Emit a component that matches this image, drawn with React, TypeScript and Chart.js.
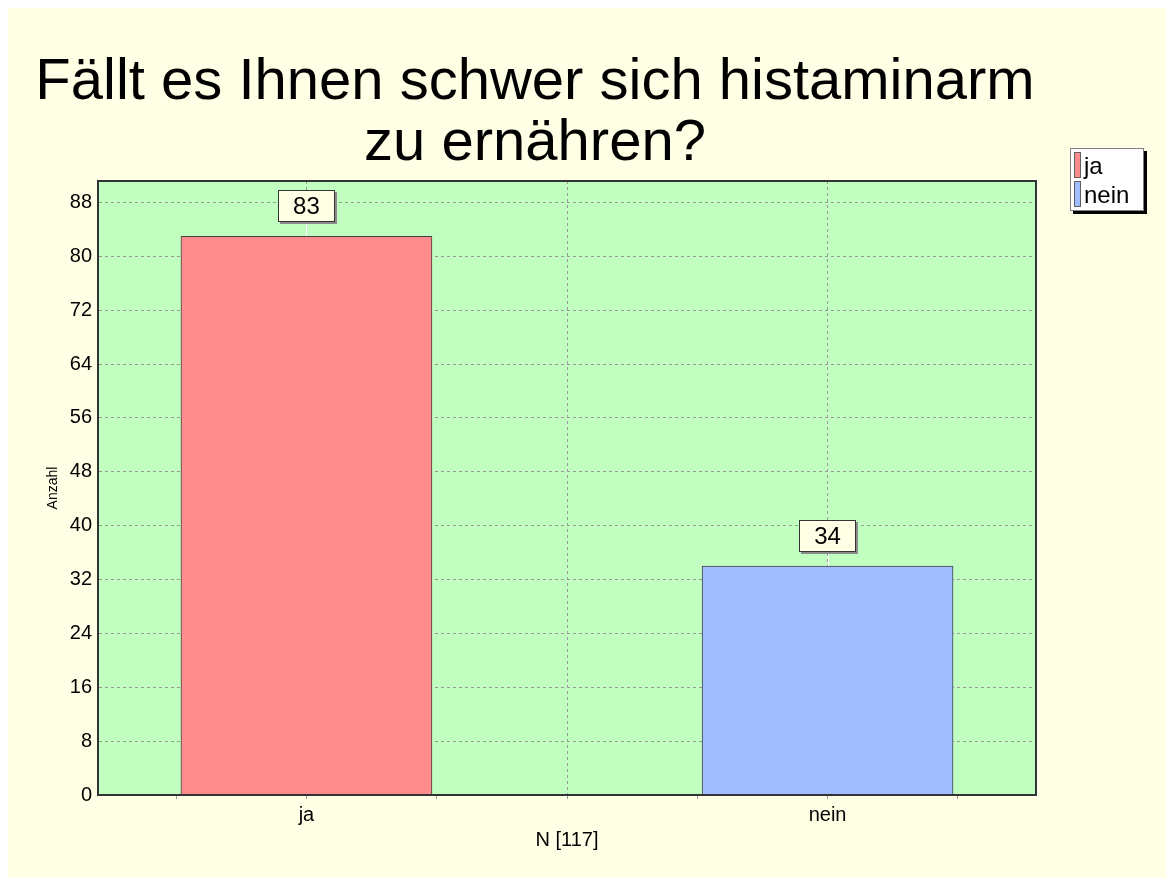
import { useEffect, useRef } from 'react';
import { Chart, registerables } from 'chart.js';

Chart.register(...registerables);

const TITLE_LINES = ['Fällt es Ihnen schwer sich histaminarm', 'zu ernähren?'];
const CATEGORIES = ['ja', 'nein'];
const CATEGORY_POSITIONS = [1, 2];
const COUNTS = [83, 34];
const BAR_COLORS = ['#FF8C8C', '#A0BEFF'];
const Y_TICK_STEP = 8;
const Y_MAX = 91.2;
const X_AXIS_TITLE = 'N [117]';
const Y_AXIS_TITLE = 'Anzahl';

const FONT = '"Liberation Sans", Arial, Helvetica, sans-serif';
const PAGE_BG = '#FFFFE6';
const PLOT_BG = '#C0FFC0';
const GRID = '#9A9A9A';

const decorPlugin = {
  id: 'decor',
  beforeDraw(chart: any) {
    const { ctx, chartArea } = chart;
    ctx.save();
    ctx.fillStyle = PAGE_BG;
    ctx.fillRect(0, 0, chart.width, chart.height);
    ctx.fillStyle = PLOT_BG;
    ctx.fillRect(chartArea.left, chartArea.top, chartArea.right - chartArea.left, chartArea.bottom - chartArea.top);
    ctx.restore();
  },
  afterDraw(chart: any) {
    const { ctx, chartArea } = chart;
    ctx.save();
    // plot frame
    ctx.strokeStyle = '#333333';
    ctx.lineWidth = 2;
    ctx.strokeRect(chartArea.left, chartArea.top, chartArea.right - chartArea.left, chartArea.bottom - chartArea.top);

    // value labels
    const meta = chart.getDatasetMeta(0);
    ctx.font = `24px ${FONT}`;
    meta.data.forEach((bar: any, i: number) => {
      const text = String(COUNTS[i]);
      const w = ctx.measureText(text).width + 30;
      const h = 32;
      const bx = bar.x - w / 2;
      const by = bar.y - 14 - h;
      ctx.strokeStyle = '#FFFFFF';
      ctx.lineWidth = 1;
      ctx.beginPath();
      ctx.moveTo(Math.round(bar.x) + 0.5, by + h);
      ctx.lineTo(Math.round(bar.x) + 0.5, bar.y);
      ctx.stroke();
      ctx.fillStyle = '#8A8A8A';
      ctx.fillRect(Math.round(bx) + 2, Math.round(by) + 2, Math.round(w), h);
      ctx.fillStyle = PAGE_BG;
      ctx.fillRect(Math.round(bx), Math.round(by), Math.round(w), h);
      ctx.strokeStyle = '#333333';
      ctx.strokeRect(Math.round(bx) + 0.5, Math.round(by) + 0.5, Math.round(w) - 1, h - 1);
      ctx.fillStyle = '#000000';
      ctx.textAlign = 'center';
      ctx.textBaseline = 'middle';
      ctx.fillText(text, bar.x, by + h / 2 + 1);
    });

    // title
    ctx.fillStyle = '#000000';
    ctx.font = `58px ${FONT}`;
    ctx.textAlign = 'center';
    ctx.textBaseline = 'alphabetic';
    ctx.fillText(TITLE_LINES[0], 527, 91);
    ctx.fillText(TITLE_LINES[1], 527, 152);

    // legend
    const lx = 1062, ly = 140, lw = 74, lh = 63;
    ctx.fillStyle = '#000000';
    ctx.fillRect(lx + 3, ly + 3, lw, lh);
    ctx.fillStyle = '#FFFFFF';
    ctx.fillRect(lx, ly, lw, lh);
    ctx.strokeStyle = '#808080';
    ctx.lineWidth = 1;
    ctx.strokeRect(lx + 0.5, ly + 0.5, lw - 1, lh - 1);
    ctx.font = `24px ${FONT}`;
    ctx.textAlign = 'left';
    CATEGORIES.forEach((c, i) => {
      const sy = ly + 4 + i * 29;
      ctx.fillStyle = BAR_COLORS[i];
      ctx.fillRect(lx + 4, sy, 7, 26);
      ctx.strokeStyle = '#606060';
      ctx.strokeRect(lx + 4.5, sy + 0.5, 6, 25);
      ctx.fillStyle = '#000000';
      ctx.fillText(c, lx + 14, ly + 26 + i * 29);
    });
    ctx.restore();
  },
};

export default function App() {
  const ref = useRef<HTMLCanvasElement>(null);
  useEffect(() => {
    if (!ref.current) return;
    const chart = new Chart(ref.current, {
      type: 'bar',
      data: {
        datasets: [
          {
            label: 'Anzahl',
            data: CATEGORY_POSITIONS.map((x, i) => ({ x, y: COUNTS[i] })),
            backgroundColor: BAR_COLORS,
            borderColor: '#404040',
            borderWidth: 1,
            barThickness: 251,
          } as any,
        ],
      },
      options: {
        animation: false,
        responsive: true,
        maintainAspectRatio: false,
        layout: { padding: { top: 173, left: 10, right: 138, bottom: 23 } },
        plugins: {
          legend: { display: false },
          title: { display: false },
          tooltip: { enabled: false },
        },
        scales: {
          x: {
            type: 'linear',
            min: 0.6,
            max: 2.4,
            offset: false,
            afterFit: (s: any) => {
              s.height = 60;
            },
            ticks: {
              stepSize: 0.25,
              autoSkip: false,
              maxTicksLimit: 20,
              includeBounds: false,
              maxRotation: 0,
              padding: 4,
              color: '#000000',
              font: { family: FONT, size: 20 },
              callback: (v: any) => {
                const idx = CATEGORY_POSITIONS.findIndex((p) => Math.abs(p - Number(v)) < 1e-6);
                return idx >= 0 ? CATEGORIES[idx] : '';
              },
            },
            grid: {
              offset: false,
              color: (ctx: any) =>
                ctx.tick && Math.abs(ctx.tick.value * 2 - Math.round(ctx.tick.value * 2)) < 1e-6 ? GRID : 'rgba(0,0,0,0)',
              tickColor: GRID,
              tickLength: 4,
              lineWidth: 1,
            },
            border: { display: true, color: '#333333', width: 2, dash: [3, 3] },
            title: {
              display: true,
              text: X_AXIS_TITLE,
              color: '#000000',
              font: { family: FONT, size: 20 },
              padding: { top: 0, bottom: 3 },
            },
          } as any,
          y: {
            min: 0,
            max: Y_MAX,
            afterFit: (s: any) => {
              s.width = 80;
            },
            ticks: {
              stepSize: Y_TICK_STEP,
              maxTicksLimit: 20,
              includeBounds: false,
              padding: 6,
              color: '#000000',
              font: { family: FONT, size: 20 },
            },
            grid: { color: GRID, drawTicks: false, lineWidth: 1 },
            border: { display: true, color: '#333333', width: 2, dash: [3, 3] },
            title: {
              display: true,
              text: Y_AXIS_TITLE,
              color: '#000000',
              font: { family: FONT, size: 14 },
              padding: { top: 27, bottom: 0 },
            },
          } as any,
        },
      },
      plugins: [decorPlugin],
    });
    return () => chart.destroy();
  }, []);
  return (
    <div style={{ width: 1166, height: 870, position: 'relative' }}>
      <canvas ref={ref} />
    </div>
  );
}
